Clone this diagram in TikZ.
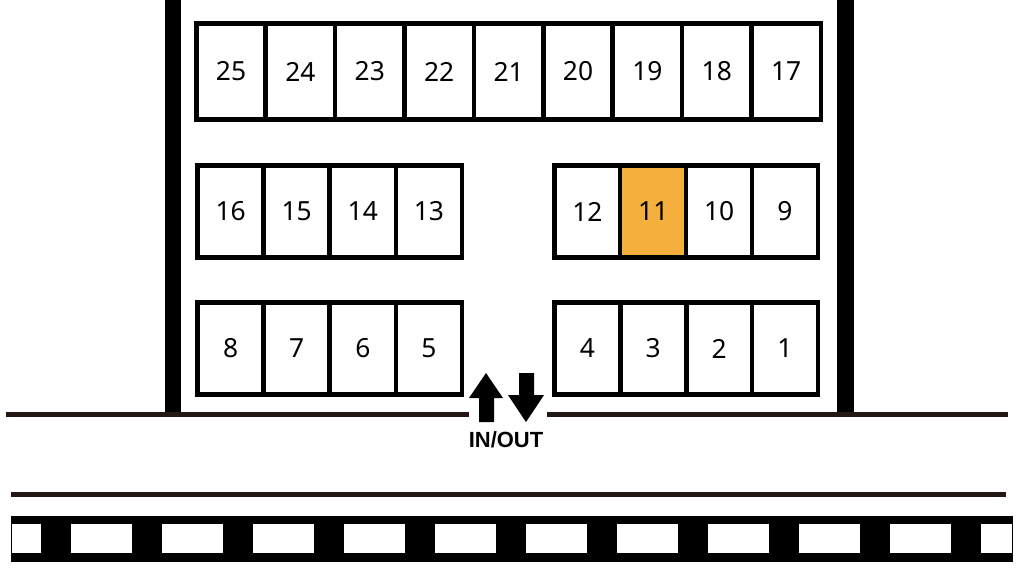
\documentclass[tikz,border=0pt]{standalone}
\usepackage{fontspec}
\setmainfont{Noto Sans}
\newfontfamily\signfont{Liberation Sans}
\usetikzlibrary{calc}
\definecolor{parkorange}{RGB}{245,175,61}
\definecolor{roadblack}{RGB}{35,24,21}

\begin{document}
\begin{tikzpicture}[x=0.02cm, y=-0.02cm,
  slot/.style={draw, line width=2.6pt, inner sep=0pt, font=\fontsize{15}{18}\selectfont},
  wide/.style={slot, minimum width=69.4*0.02cm, minimum height=96.4*0.02cm},
  narrow/.style={slot, minimum width=66.1*0.02cm, minimum height=92.5*0.02cm},
  road/.style={roadblack, line width=2.8pt}]
  \useasboundingbox[fill=white] (0,0) rectangle (1024,576);
  % Walls
  \fill (165,0) rectangle (181,417);
  \fill (837,0) rectangle (854,416);
  % Nodes
  \foreach \n [count=\i from 0] in {25,24,...,17}
    \node[wide](s\n) at (231+69.4*\i, 71.5) {\n};
  \foreach \n [count=\i from 0] in {16,15,14,13}
    \node[narrow](s\n) at (230.6+66.1*\i, 211.5) {\n};
  \foreach \n/\c [count=\i from 0] in {12/white,11/parkorange,10/white,9/white}
    \node[narrow, fill=\c](s\n) at (587.4+65.85*\i, 211.5) {\n};
  \foreach \n [count=\i from 0] in {8,7,6,5}
    \node[narrow](s\n) at (230.6+66.1*\i, 348.5) {\n};
  \foreach \n [count=\i from 0] in {4,3,2,1}
    \node[narrow](s\n) at (587.4+65.85*\i, 348.5) {\n};
  \node[font=\signfont\bfseries\fontsize{12.5}{14}\selectfont, inner sep=0pt](io) at (506,439.5) {IN/OUT};
  % Ground and road
  \draw[road] (6,414.5) -- (469,414.5);
  \draw[road] (547,414.5) -- (1008,414.5);
  \draw[road] (11,494.5) -- (1006,494.5);
  % Entrance arrows
  \fill (479,422) -- (479,398) -- (469,398) -- (486,373) -- (503,398) -- (494,398) -- (494,422) -- cycle;
  \fill (519,373) -- (534,373) -- (534,395) -- (544,395) -- (526,422) -- (508,395) -- (519,395) -- cycle;
  % Railway
  \fill (11,516) rectangle (1013,562);
  \fill[white] (12,524) rectangle (41,553);
  \foreach \k in {0,...,10}
    \fill[white] ({71+91*\k},524) rectangle ({min(132+91*\k,1012)},553);
\end{tikzpicture}
\end{document}
